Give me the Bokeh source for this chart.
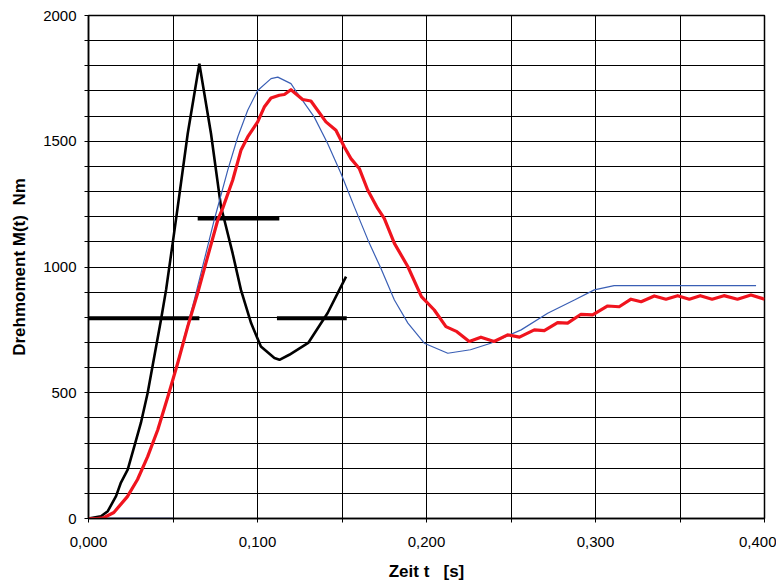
from bokeh.plotting import figure
from bokeh.models import FixedTicker, CustomJSTickFormatter, Range1d
from bokeh.embed import file_html
from bokeh.resources import INLINE

# ---- data ----
black_t = [0.0, 0.0074, 0.0114, 0.0163, 0.0192, 0.0232, 0.0271, 0.031, 0.035, 0.0429,
           0.0459, 0.0498, 0.0528, 0.0587, 0.0656, 0.0725, 0.0784, 0.0804, 0.0853, 0.0902,
           0.0962, 0.102, 0.110, 0.113, 0.1188, 0.130, 0.1415, 0.1524]
black_M = [0, 9, 29, 89, 143, 194, 287, 380, 499, 790,
           909, 1094, 1239, 1530, 1808, 1530, 1239, 1187, 1054, 909,
           777, 684, 638, 631, 651, 698, 817, 962]

bar1_t = [0.0, 0.0656]
bar1_M = [796, 796]
bar2_t = [0.0646, 0.1129]
bar2_M = [1193, 1193]
bar3_t = [0.1115, 0.1528]
bar3_M = [796, 796]

blue_t = [0.0, 0.009, 0.015, 0.023, 0.029, 0.035, 0.041, 0.047, 0.0557, 0.0626,
          0.0685, 0.0744, 0.0824, 0.0883, 0.0942, 0.1001, 0.108, 0.112, 0.1198, 0.1238,
          0.1336, 0.1415, 0.1494, 0.1573, 0.1662, 0.173, 0.181, 0.189, 0.1987, 0.2126,
          0.226, 0.238, 0.256, 0.2717, 0.2875, 0.2993, 0.311, 0.395]
blue_M = [0, 0, 24, 87, 155, 246, 353, 480, 697, 869,
          1028, 1187, 1385, 1517, 1623, 1702, 1749, 1755, 1729, 1689,
          1596, 1491, 1372, 1239, 1094, 995, 869, 777, 697, 657,
          671, 697, 750, 816, 869, 909, 926, 926]

base_t = [0.0, 0.05]
base_M = [0, 0]

red_t = [0.0, 0.005, 0.009, 0.015, 0.023, 0.029, 0.035, 0.041, 0.047, 0.0528,
         0.0587, 0.0646, 0.0705, 0.0765, 0.0794, 0.0853, 0.0902, 0.0942, 0.1001, 0.104,
         0.108, 0.1129, 0.1159, 0.1198, 0.1267, 0.1316, 0.1405, 0.1464, 0.1514, 0.1553,
         0.1602, 0.1652, 0.1711, 0.175, 0.181, 0.189, 0.197, 0.2046, 0.2115, 0.218,
         0.2253, 0.2322, 0.240, 0.248, 0.255, 0.2638, 0.2697, 0.2776, 0.2835, 0.2914,
         0.2983, 0.3072, 0.314, 0.321, 0.327, 0.3348, 0.3417, 0.3486, 0.3555, 0.362,
         0.369, 0.376, 0.384, 0.392, 0.400]
red_M = [0, 0, 3, 24, 87, 155, 246, 353, 485, 618,
         763, 896, 1041, 1187, 1233, 1345, 1464, 1517, 1577, 1636,
         1672, 1683, 1686, 1705, 1666, 1660, 1577, 1544, 1477, 1431,
         1392, 1306, 1233, 1193, 1094, 1001, 882, 829, 763, 743,
         704, 721, 704, 730, 721, 750, 747, 779, 777, 812,
         810, 845, 842, 872, 862, 885, 872, 886, 872, 886,
         872, 886, 872, 889, 872]

x_major = [0.0, 0.1, 0.2, 0.3, 0.4]
x_minor = [0.05, 0.15, 0.25, 0.35]
y_major = [0, 500, 1000, 1500, 2000]
y_minor = [100, 200, 300, 400, 600, 700, 800, 900, 1100, 1200, 1300, 1400,
           1600, 1700, 1800, 1900]

FONT = "Liberation Sans"
NB = "\u00a0"

p = figure(width=776, height=583, output_backend="svg", toolbar_location=None,
           x_range=Range1d(0, 0.4), y_range=Range1d(0, 2000),
           min_border_left=88, min_border_right=12, min_border_top=15, min_border_bottom=58)
p.background_fill_color = "white"
p.border_fill_color = "white"
p.outline_line_color = "black"
p.outline_line_width = 1.5

# axes
p.xaxis.ticker = FixedTicker(ticks=x_major, minor_ticks=x_minor)
p.yaxis.ticker = FixedTicker(ticks=y_major, minor_ticks=y_minor)
p.xaxis.formatter = CustomJSTickFormatter(code="return tick.toFixed(3).replace('.', ',');")
p.yaxis.formatter = CustomJSTickFormatter(code="return tick.toFixed(0);")
for ax in (p.xaxis, p.yaxis):
    ax.axis_line_color = "black"
    ax.axis_line_width = 1.5
    ax.major_tick_line_color = "black"
    ax.minor_tick_line_color = "black"
    ax.major_tick_in = 0
    ax.minor_tick_in = 0
    ax.major_tick_out = 4
    ax.minor_tick_out = 4
    ax.major_label_text_font = FONT
    ax.major_label_text_font_size = "15px"
    ax.major_label_text_color = "black"
    ax.axis_label_text_font = FONT
    ax.axis_label_text_font_size = "17px"
    ax.axis_label_text_font_style = "bold"
    ax.axis_label_text_color = "black"
p.xaxis.major_label_standoff = 14
p.yaxis.major_label_standoff = 8
p.xaxis.axis_label = "Zeit t" + NB * 3 + "[s]"
p.yaxis.axis_label = "Drehmoment M(t)" + NB * 2 + "Nm"
p.xaxis.axis_label_standoff = 12
p.yaxis.axis_label_standoff = 11

# grid
for g in (p.xgrid, p.ygrid):
    g.grid_line_color = "black"
    g.grid_line_width = 1
    g.minor_grid_line_color = "black"
    g.minor_grid_line_width = 1
p.xgrid.ticker = p.xaxis.ticker
p.ygrid.ticker = p.yaxis.ticker

# series
p.line(black_t, black_M, line_color="black", line_width=2.6)
p.line(bar1_t, bar1_M, line_color="black", line_width=4)
p.line(bar2_t, bar2_M, line_color="black", line_width=4)
p.line(bar3_t, bar3_M, line_color="black", line_width=4)
p.line(base_t, base_M, line_color="#1f2f8f", line_width=1.5)
p.line(blue_t, blue_M, line_color="#3a5fb5", line_width=1.2)
p.line(red_t, red_M, line_color="#f0141e", line_width=3.2, line_join="round")

open("out.html", "w").write(file_html(p, INLINE))
